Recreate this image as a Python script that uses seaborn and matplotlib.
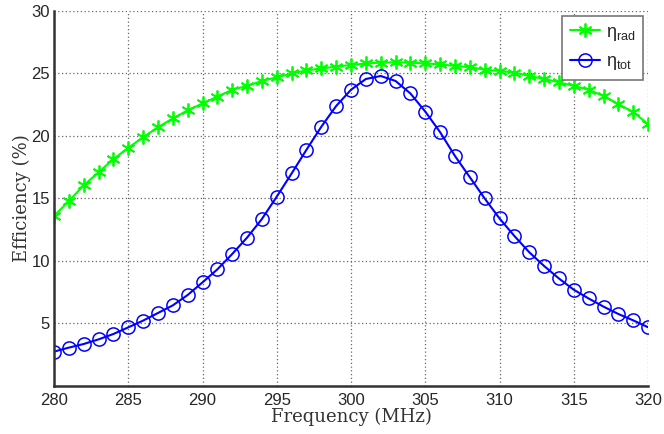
import numpy as np
import pandas as pd
import matplotlib
matplotlib.use("Agg")
import matplotlib.pyplot as plt
import seaborn as sns

# frequency sweep (MHz)
freq = list(range(280, 321))

# radiation efficiency (%)
eta_rad = [13.6, 14.8, 16.05, 17.1, 18.15, 19.05, 19.9, 20.7, 21.4, 22.05,
           22.6, 23.15, 23.7, 24.0, 24.4, 24.7, 25.0, 25.25, 25.4, 25.55,
           25.68, 25.8, 25.87, 25.9, 25.87, 25.8, 25.73, 25.6, 25.5, 25.3,
           25.2, 25.07, 24.8, 24.56, 24.3, 24.0, 23.7, 23.2, 22.56, 21.9,
           20.96]

# total efficiency (%)
eta_tot = [2.75, 3.07, 3.36, 3.73, 4.16, 4.69, 5.23, 5.84, 6.45, 7.28,
           8.29, 9.33, 10.56, 11.87, 13.36, 15.15, 17.0, 18.9, 20.74, 22.4,
           23.7, 24.56, 24.8, 24.4, 23.4, 21.95, 20.3, 18.4, 16.7, 15.0,
           13.4, 12.0, 10.7, 9.6, 8.6, 7.7, 7.0, 6.35, 5.76, 5.25,
           4.7]

xticks = [280, 285, 290, 295, 300, 305, 310, 315, 320]
yticks = [5, 10, 15, 20, 25, 30]

df = pd.DataFrame({"freq": freq, "rad": eta_rad, "tot": eta_tot})

sns.set_style("white")
plt.rcParams["font.family"] = ["Liberation Sans", "DejaVu Sans"]
plt.rcParams["mathtext.fontset"] = "custom"
plt.rcParams["mathtext.rm"] = "Liberation Sans"
plt.rcParams["mathtext.it"] = "Liberation Sans:italic"

fig = plt.figure(figsize=(6.64, 4.34), dpi=100)
ax = fig.add_axes([0.0813, 0.1106, 0.8947, 0.8641])

sns.lineplot(data=df, x="freq", y="rad", ax=ax, color="#00ff00",
             marker=(6, 2, 0), markersize=10, markeredgewidth=1.3,
             markeredgecolor="#00ff00", linewidth=1.5,
             label=r"$\mathrm{\eta_{rad}}$")
sns.lineplot(data=df, x="freq", y="tot", ax=ax, color="#0000ff",
             marker="o", markersize=9.5, markerfacecolor="none",
             markeredgecolor="#0000ff", markeredgewidth=1.1, linewidth=1.5,
             label=r"$\mathrm{\eta_{tot}}$")

ax.set_xlim(280, 320)
ax.set_ylim(0, 30)
ax.set_xticks(xticks)
ax.set_yticks(yticks)
ax.tick_params(axis="both", direction="in", length=5, width=1.5,
               labelsize=12, color="#333333", pad=3)
ax.tick_params(axis="x", pad=5)
ax.grid(True, linestyle=(0, (1, 2)), color="#666666", linewidth=0.9)

for side in ["top", "right"]:
    ax.spines[side].set_visible(False)
for side in ["left", "bottom"]:
    ax.spines[side].set_color("#333333")
    ax.spines[side].set_linewidth(1.8)

ax.set_xlabel("Frequency (MHz)", family="DejaVu Serif", fontsize=13,
              color="#333333", labelpad=0)
ax.set_ylabel("Efficiency (%)", family="DejaVu Serif", fontsize=13,
              color="#333333", labelpad=0)

leg = ax.legend(loc="upper right", fontsize=13, fancybox=False,
                framealpha=1, edgecolor="#777777", handlelength=1.7,
                handletextpad=0.3, borderaxespad=0.3, borderpad=0.4,
                labelspacing=0.6)
leg.get_frame().set_linewidth(1.2)

fig.savefig("out.png", dpi=100)
